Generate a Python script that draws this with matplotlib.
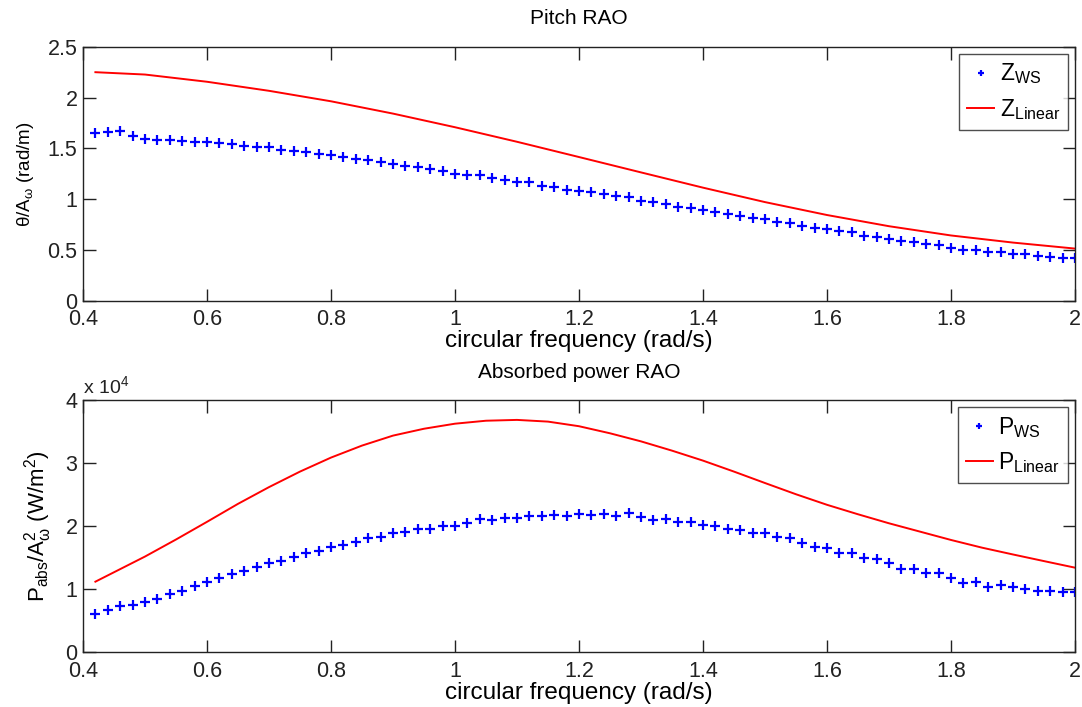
import numpy as np
import matplotlib
matplotlib.use("Agg")
import matplotlib.pyplot as plt
from matplotlib.ticker import FuncFormatter

plt.rcParams['font.family'] = ['Liberation Sans', 'DejaVu Sans']
plt.rcParams['mathtext.fontset'] = 'custom'
plt.rcParams['mathtext.rm'] = 'Liberation Sans'
plt.rcParams['mathtext.it'] = 'Liberation Sans'
plt.rcParams['mathtext.default'] = 'regular'

# ---- data ----
freq_ws = np.round(np.arange(0.42, 2.0001, 0.02), 2)

z_ws = [1.652, 1.665, 1.675, 1.626, 1.593, 1.586, 1.586, 1.576, 1.567, 1.567,
        1.553, 1.543, 1.527, 1.517, 1.510, 1.488, 1.478, 1.461, 1.440, 1.435,
        1.419, 1.396, 1.385, 1.363, 1.346, 1.330, 1.314, 1.297, 1.281, 1.248,
        1.238, 1.238, 1.205, 1.189, 1.172, 1.166, 1.133, 1.123, 1.094, 1.084,
        1.067, 1.051, 1.028, 1.018, 0.985, 0.969, 0.952, 0.926, 0.913, 0.893,
        0.870, 0.854, 0.837, 0.815, 0.805, 0.781, 0.765, 0.739, 0.713, 0.706,
        0.683, 0.680, 0.640, 0.624, 0.608, 0.591, 0.575, 0.558, 0.548, 0.525,
        0.502, 0.502, 0.483, 0.483, 0.460, 0.460, 0.443, 0.433, 0.427, 0.427]

freq_lin_z = [0.42, 0.5, 0.6, 0.7, 0.8, 0.9, 1.0, 1.1, 1.2, 1.3, 1.4, 1.5,
              1.6, 1.7, 1.8, 1.9, 2.0]
z_lin = [2.249, 2.226, 2.155, 2.066, 1.963, 1.842, 1.708, 1.565, 1.415, 1.264,
         1.114, 0.972, 0.845, 0.735, 0.644, 0.574, 0.515]

# absorbed power, in units of 1e4 W/m^2
p_ws = [0.605, 0.674, 0.742, 0.753, 0.795, 0.848, 0.922, 0.975, 1.054, 1.122,
        1.175, 1.244, 1.296, 1.350, 1.413, 1.450, 1.518, 1.582, 1.613, 1.677,
        1.704, 1.746, 1.810, 1.826, 1.889, 1.905, 1.952, 1.952, 2.005, 2.010,
        2.047, 2.111, 2.100, 2.136, 2.136, 2.168, 2.168, 2.179, 2.168, 2.190,
        2.179, 2.190, 2.163, 2.206, 2.142, 2.100, 2.111, 2.063, 2.063, 2.021,
        2.010, 1.952, 1.941, 1.889, 1.889, 1.836, 1.810, 1.731, 1.677, 1.651,
        1.582, 1.572, 1.493, 1.477, 1.413, 1.323, 1.323, 1.255, 1.255, 1.175,
        1.106, 1.122, 1.033, 1.070, 1.043, 1.001, 0.979, 0.979, 0.964, 0.964]

freq_lin_p = [0.42, 0.5, 0.55, 0.6, 0.65, 0.7, 0.75, 0.8, 0.85, 0.9, 0.95,
              1.0, 1.05, 1.1, 1.15, 1.2, 1.25, 1.3, 1.35, 1.4, 1.45, 1.5,
              1.55, 1.6, 1.65, 1.7, 1.75, 1.8, 1.85, 1.9, 1.95, 2.0]
p_lin = [1.122, 1.520, 1.790, 2.070, 2.355, 2.620, 2.866, 3.088, 3.278, 3.436,
         3.545, 3.625, 3.672, 3.685, 3.658, 3.585, 3.473, 3.345, 3.198, 3.040,
         2.866, 2.685, 2.507, 2.340, 2.190, 2.047, 1.915, 1.783, 1.661, 1.553,
         1.448, 1.344]

xticks = [0.4, 0.6, 0.8, 1.0, 1.2, 1.4, 1.6, 1.8, 2.0]
yticks_top = [0, 0.5, 1, 1.5, 2, 2.5]
yticks_bot = [0, 1, 2, 3, 4]

# ---- figure ----
fig = plt.figure(figsize=(10.82, 7.07), dpi=100)
ax1 = fig.add_axes([0.0767, 0.5743, 0.9168, 0.3597])
ax2 = fig.add_axes([0.0767, 0.0771, 0.9168, 0.3571])

fmt = FuncFormatter(lambda v, p: ('%g' % v))


def style(ax):
    ax.set_xlim(0.4, 2.0)
    ax.set_xticks(xticks)
    ax.xaxis.set_major_formatter(fmt)
    ax.yaxis.set_major_formatter(fmt)
    ax.tick_params(direction='in', length=9, width=1, top=True, right=True,
                   labelsize=15.5, colors='#222222')
    ax.tick_params(axis='x', pad=6)
    ax.tick_params(axis='y', pad=4)
    for s in ax.spines.values():
        s.set_color('#222222')
        s.set_linewidth(1.0)
    ax.set_xlabel('circular frequency (rad/s)', fontsize=17.5, labelpad=0)


leg_kw = dict(loc='upper right', fontsize=16.5, frameon=True, fancybox=False,
              edgecolor='#222222', handlelength=1.15, borderpad=0.35,
              labelspacing=0.45, handletextpad=0.25, borderaxespad=0.3,
              markerscale=0.7)

ax1.plot(freq_ws, z_ws, '+', color='#0000ff', markersize=7, mew=1.6,
         label=r'$\mathregular{Z_{WS}}$')
ax1.plot(freq_lin_z, z_lin, '-', color='#ff0000', lw=1.4,
         label=r'$\mathregular{Z_{Linear}}$')
style(ax1)
ax1.set_ylim(0, 2.5)
ax1.set_yticks(yticks_top)
ax1.set_title('Pitch RAO', fontsize=15, pad=16)
ax1.set_ylabel(r'$\theta$/A$_\omega$ (rad/m)', fontsize=13.5, labelpad=8)
ax1.legend(**leg_kw)

ax2.plot(freq_ws, p_ws, '+', color='#0000ff', markersize=7, mew=1.6,
         label=r'$\mathregular{P_{WS}}$')
ax2.plot(freq_lin_p, p_lin, '-', color='#ff0000', lw=1.4,
         label=r'$\mathregular{P_{Linear}}$')
style(ax2)
ax2.set_ylim(0, 4)
ax2.set_yticks(yticks_bot)
ax2.set_title('Absorbed power RAO', fontsize=15, pad=16)
ax2.set_ylabel(r'P$_{abs}$/A$^2_\omega$ (W/m$^2$)', fontsize=16, labelpad=8)
ax2.text(0.0, 1.01, r'x 10$^4$', transform=ax2.transAxes, fontsize=14,
         color='#222222', ha='left', va='bottom')
ax2.legend(**leg_kw)

fig.savefig('out.png', dpi=100)
